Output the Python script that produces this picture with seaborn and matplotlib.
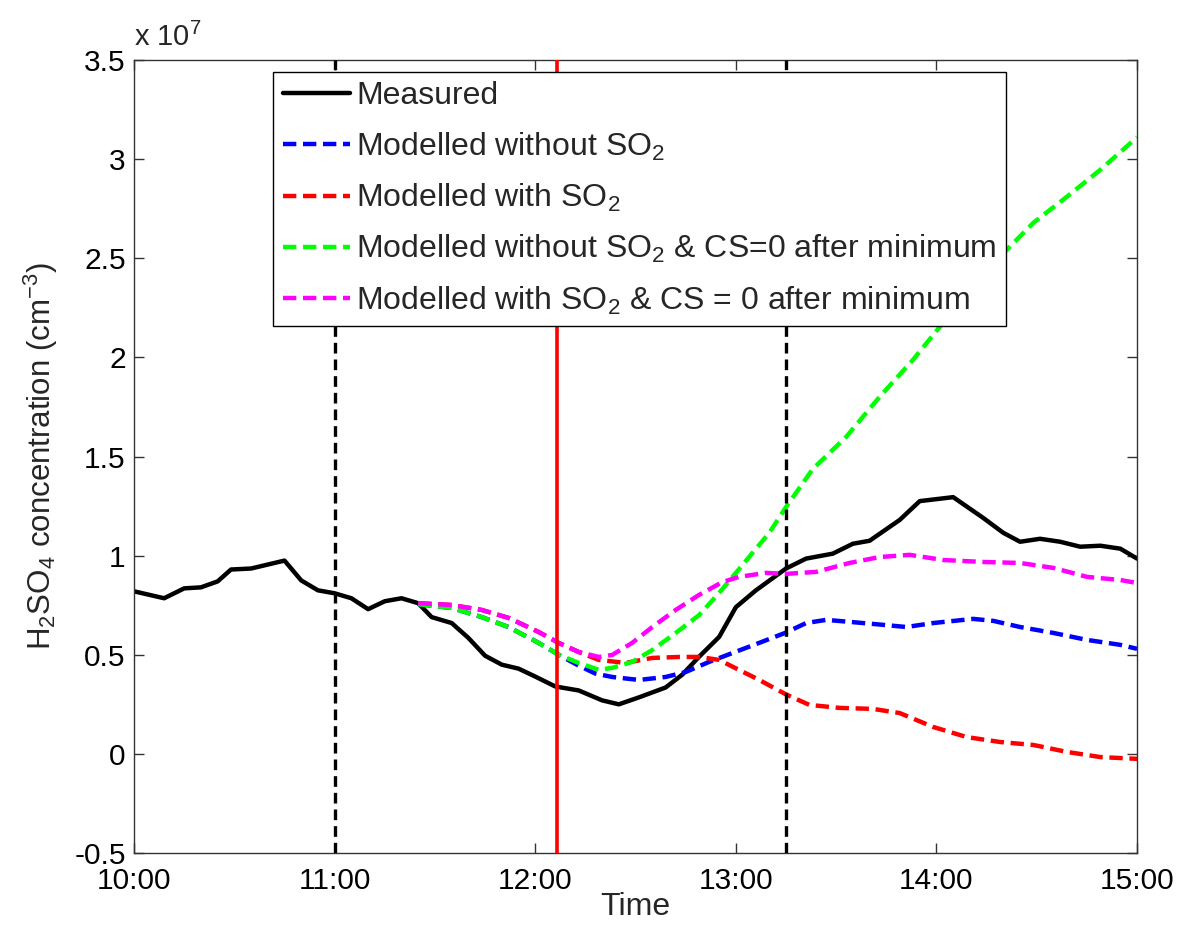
import numpy as np
import pandas as pd
import matplotlib
matplotlib.use("Agg")
import matplotlib.pyplot as plt
import matplotlib.dates as mdates
from matplotlib.ticker import FuncFormatter, MultipleLocator
import seaborn as sns

# ---------------- data (concentration in units of 1e7 cm^-3) ----------------
measured_time = ["10:00", "10:09", "10:15", "10:20", "10:25", "10:29", "10:35", "10:45",
                 "10:50", "10:55", "11:00", "11:05", "11:10", "11:15", "11:20", "11:25",
                 "11:29", "11:35", "11:40", "11:45", "11:50", "11:55", "12:00", "12:06",
                 "12:13", "12:20", "12:25", "12:31", "12:39", "12:44", "12:49", "12:55",
                 "13:00", "13:06", "13:15", "13:21", "13:29", "13:35", "13:40", "13:49",
                 "13:55", "14:05", "14:14", "14:20", "14:25", "14:31", "14:37", "14:43",
                 "14:49", "14:55", "15:00"]
measured_value = [0.82, 0.785, 0.835, 0.84, 0.87, 0.93, 0.935, 0.975,
                  0.875, 0.825, 0.81, 0.785, 0.73, 0.77, 0.785, 0.76,
                  0.69, 0.66, 0.585, 0.495, 0.45, 0.43, 0.39, 0.34,
                  0.32, 0.27, 0.25, 0.285, 0.335, 0.40, 0.49, 0.59,
                  0.74, 0.825, 0.935, 0.985, 1.01, 1.06, 1.075, 1.18,
                  1.275, 1.295, 1.19, 1.115, 1.07, 1.085, 1.07, 1.045,
                  1.05, 1.035, 0.985]

no_so2_time = ["11:25", "11:35", "11:44", "11:52", "12:01", "12:07", "12:13", "12:18",
               "12:23", "12:31", "12:39", "12:45", "12:52", "12:59", "13:07", "13:15",
               "13:21", "13:27", "13:34", "13:44", "13:51", "13:59", "14:11", "14:17",
               "14:25", "14:35", "14:45", "14:55", "15:00"]
no_so2_value = [0.755, 0.736, 0.69, 0.64, 0.56, 0.50, 0.445, 0.405,
                0.388, 0.373, 0.388, 0.413, 0.464, 0.509, 0.56, 0.612,
                0.66, 0.676, 0.666, 0.651, 0.64, 0.66, 0.681, 0.671,
                0.64, 0.61, 0.575, 0.55, 0.53]

with_so2_time = ["11:25", "11:35", "11:44", "11:52", "12:01", "12:07", "12:13", "12:19",
                 "12:27", "12:35", "12:43", "12:49", "12:55", "12:59", "13:07", "13:15",
                 "13:22", "13:31", "13:41", "13:49", "13:59", "14:09", "14:19", "14:29",
                 "14:39", "14:49", "15:00"]
with_so2_value = [0.76, 0.751, 0.726, 0.686, 0.615, 0.56, 0.514, 0.474,
                  0.459, 0.484, 0.489, 0.489, 0.474, 0.44, 0.373, 0.30,
                  0.247, 0.232, 0.227, 0.206, 0.136, 0.085, 0.06, 0.045,
                  0.01, -0.016, -0.025]

no_so2_cs0_time = ["11:25", "11:35", "11:44", "11:52", "12:01", "12:07", "12:13", "12:19",
                   "12:23", "12:29", "12:35", "12:42", "12:49", "12:55", "13:00", "13:05",
                   "13:10", "13:15", "13:23", "13:33", "13:43", "13:53", "14:01", "14:09",
                   "14:19", "14:29", "14:39", "14:49", "15:00"]
no_so2_cs0_value = [0.755, 0.736, 0.69, 0.64, 0.56, 0.50, 0.459, 0.424,
                    0.434, 0.464, 0.524, 0.61, 0.70, 0.812, 0.913, 1.014,
                    1.115, 1.245, 1.437, 1.599, 1.801, 1.988, 2.154, 2.306,
                    2.508, 2.679, 2.81, 2.946, 3.11]

with_so2_cs0_time = ["11:25", "11:35", "11:44", "11:52", "12:01", "12:07", "12:13", "12:19",
                     "12:23", "12:29", "12:35", "12:42", "12:49", "12:56", "13:01", "13:09",
                     "13:15", "13:24", "13:34", "13:43", "13:52", "14:02", "14:14", "14:25",
                     "14:35", "14:45", "14:55", "15:00"]
with_so2_cs0_value = [0.76, 0.751, 0.726, 0.686, 0.615, 0.56, 0.514, 0.489,
                      0.499, 0.56, 0.64, 0.726, 0.802, 0.867, 0.893, 0.913,
                      0.908, 0.918, 0.963, 0.993, 1.004, 0.978, 0.968, 0.963,
                      0.938, 0.893, 0.877, 0.862]

dashed_marker_times = ["11:00", "13:15"]
solid_marker_times = ["12:06:30"]

labels = ["Measured",
          r"Modelled without SO$_2$",
          r"Modelled with SO$_2$",
          r"Modelled without SO$_2$ & CS=0 after minimum",
          r"Modelled with SO$_2$ & CS = 0 after minimum"]
colors = ["black", "#0000ff", "#ff0000", "#00ff00", "#ff00ff"]


def to_dt(ts):
    return pd.to_datetime(["2013-05-01 " + t for t in ts])


series = [(measured_time, measured_value),
          (no_so2_time, no_so2_value),
          (with_so2_time, with_so2_value),
          (no_so2_cs0_time, no_so2_cs0_value),
          (with_so2_cs0_time, with_so2_cs0_value)]

# ---------------- style ----------------
sns.set_theme(style="ticks")
plt.rcParams["font.family"] = ["Liberation Sans", "DejaVu Sans"]
plt.rcParams["mathtext.default"] = "regular"
plt.rcParams["axes.unicode_minus"] = False

fig = plt.figure(figsize=(11.81, 9.27), dpi=100)
ax = fig.add_axes([0.1135, 0.0798, 0.8493, 0.8555])

for i, ((ts, vs), lab, col) in enumerate(zip(series, labels, colors)):
    df = pd.DataFrame({"time": to_dt(ts), "value": vs})
    ls = "-" if i == 0 else (0, (3.0, 1.5))
    sns.lineplot(data=df, x="time", y="value", ax=ax, color=col, lw=3.2,
                 linestyle=ls, label=lab, zorder=2 + i * 0.1, legend=False)

for t in to_dt(dashed_marker_times):
    ax.axvline(t, color="black", lw=2.4, linestyle=(0, (3.2, 1.8)), zorder=4)
for t in to_dt(solid_marker_times):
    ax.axvline(t, color="#ff0000", lw=2.6, zorder=4)

ax.set_xlim(to_dt(["10:00"])[0], to_dt(["15:00"])[0])
ax.set_ylim(-0.5, 3.5)
ax.xaxis.set_major_locator(mdates.HourLocator())
ax.xaxis.set_major_formatter(mdates.DateFormatter("%H:%M"))
ax.yaxis.set_major_locator(MultipleLocator(0.5))
ax.yaxis.set_major_formatter(FuncFormatter(lambda v, p: "%g" % v))

ax.tick_params(direction="in", length=7, width=1, labelsize=21.5, colors="#333333",
               labelcolor="black", top=True, right=True)
ax.tick_params(axis="x", pad=10)
ax.tick_params(axis="y", pad=6)
for sp in ax.spines.values():
    sp.set_color("#333333")
    sp.set_linewidth(1.0)

ax.set_xlabel("Time", fontsize=23, labelpad=-2)
ax.set_ylabel(r"H$_2$SO$_4$ concentration (cm$^{-3}$)", fontsize=22.5, labelpad=10)
ax.text(0.0, 1.01, r"x 10$^{7}$", transform=ax.transAxes, fontsize=21,
        ha="left", va="bottom")

lines = ax.get_lines()[:5]
leg = ax.legend(lines, labels, loc="upper left", bbox_to_anchor=(0.1386, 0.985),
                borderaxespad=0, fontsize=23, frameon=True, fancybox=False,
                edgecolor="black", framealpha=1, handlelength=2.1,
                handletextpad=0.2, borderpad=0.3, labelspacing=0.6)
leg.get_frame().set_linewidth(1.0)
leg.set_zorder(10)

fig.savefig("out.png", dpi=100)
